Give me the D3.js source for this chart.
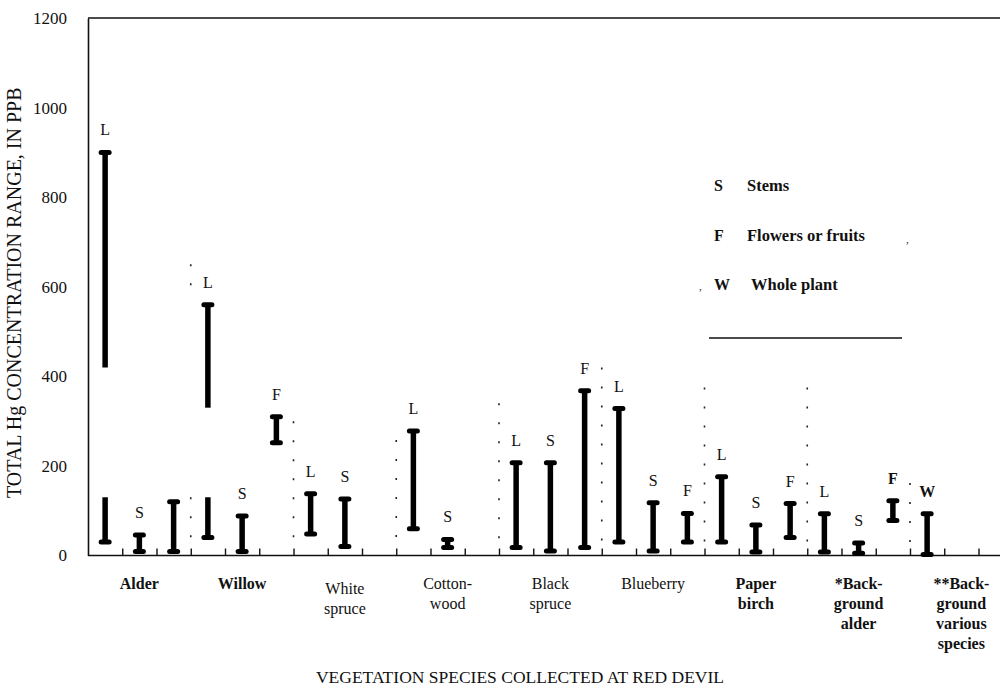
<!DOCTYPE html>
<html>
<head>
<meta charset="utf-8">
<script src="https://cdn.jsdelivr.net/npm/d3@7"></script>
<style>
  body { margin: 0; background: #fff; }
  text { font-family: "Liberation Serif", "Times New Roman", serif; fill: #111; }
</style>
</head>
<body>
<svg id="chart" width="1004" height="688"></svg>
<script>
// Species groups along the x axis (three sample slots per species)
const speciesLines = [
  ["Alder"], ["Willow"], ["White", "spruce"], ["Cotton-", "wood"],
  ["Black", "spruce"], ["Blueberry"], ["Paper", "birch"],
  ["*Back-", "ground", "alder"], ["**Back-", "ground", "various", "species"]
];
const speciesLight = ["White", "Cotton-", "Black", "Blueberry"];

// Concentration ranges (ppb): slot index, low, high, which ends carry a cap
const rangeSlot = [0, 0, 1, 2, 3, 3, 4, 5, 6, 7, 9, 10, 12, 13, 14, 15, 16, 17, 18, 19, 20, 21, 22, 23, 24];
const rangeLow  = [420, 30, 9, 9, 330, 40, 9, 252, 48, 20, 60, 18, 18, 10, 18, 30, 10, 30, 30, 8, 40, 8, 5, 78, 2];
const rangeHigh = [900, 130, 46, 120, 560, 130, 88, 310, 138, 126, 278, 36, 207, 207, 368, 328, 118, 94, 176, 68, 116, 93, 28, 122, 93];
const rangeCaps = ["t", "b", "tb", "tb", "t", "b", "tb", "tb", "tb", "tb", "tb", "tb", "tb", "tb", "tb", "tb", "tb", "tb", "tb", "tb", "tb", "tb", "tb", "tb", "tb"];

// Plant-part letters drawn above the ranges
const labelSlot = [0, 1, 3, 4, 5, 6, 7, 9, 10, 12, 13, 14, 15, 16, 17, 18, 19, 20, 21, 22, 23, 24];
const labelText = ["L", "S", "L", "S", "F", "L", "S", "L", "S", "L", "S", "F", "L", "S", "F", "L", "S", "F", "L", "S", "F", "W"];
const labelBold = [23, 24];

// Dotted dividers between species groups: [upper, lower] extents in ppb
const dividerAfter = [0, 1, 2, 3, 4, 5, 6, 7];
const dividerParts = [
  [[650, 590], [130, 25]],
  [[300, 30]],
  [[258, 30]],
  [[340, 30]],
  [[420, 30]],
  [[375, 30]],
  [[375, 30]],
  [[162, 30]]
];

// Legend
const legendKey = ["S", "F", "W"];
const legendText = ["Stems", "Flowers or fruits", "Whole plant"];

const yTicks = [0, 200, 400, 600, 800, 1000, 1200];

const svg = d3.select("#chart");
const plotLeft = 88, plotRight = 1000, plotTop = 18, plotBottom = 555.5;
const slotWidth = 34.25;
const nSlots = speciesLines.length * 3;

const x = d3.scaleBand().domain(d3.range(nSlots)).range([plotLeft, plotLeft + slotWidth * nSlots]).padding(0);
const cx = i => x(i) + x.bandwidth() / 2;
const edge = d3.scaleLinear().domain([0, nSlots]).range([plotLeft, plotLeft + slotWidth * nSlots]);
const y = d3.scaleLinear().domain([0, 1200]).range([plotBottom, plotTop]);

// Frame: top rule and baseline
svg.append("line").attr("x1", plotLeft).attr("x2", plotRight).attr("y1", plotTop).attr("y2", plotTop)
  .attr("stroke", "#111").attr("stroke-width", 1.6);
svg.append("line").attr("x1", plotLeft).attr("x2", plotRight).attr("y1", plotBottom).attr("y2", plotBottom)
  .attr("stroke", "#111").attr("stroke-width", 1.6);

// Y axis
const yAxis = svg.append("g").attr("transform", `translate(${plotLeft},0)`)
  .call(d3.axisLeft(y).tickValues(yTicks).tickSize(0).tickPadding(21).tickFormat(d3.format("d")));
yAxis.select(".domain").attr("stroke", "#111").attr("stroke-width", 1.6);
yAxis.selectAll("text").style("font-family", "Liberation Serif").style("font-size", "17px").attr("fill", "#111");

// Bottom ticks at every slot boundary
const xAxis = svg.append("g").attr("transform", `translate(0,${plotBottom})`)
  .call(d3.axisBottom(edge).tickValues(d3.range(1, nSlots).filter(k => edge(k) < plotRight))
    .tickSizeInner(-7).tickSizeOuter(0).tickFormat(""));
xAxis.select(".domain").remove();
xAxis.selectAll(".tick line").attr("stroke", "#111").attr("stroke-width", 1.4);

// Species names below the axis
const names = svg.append("g");
speciesLines.forEach((lines, s) => {
  const t = names.append("text")
    .attr("x", cx(s * 3 + 1))
    .attr("y", 589 + (s === 2 ? 5 : 0))
    .attr("text-anchor", "middle")
    .style("font-size", "16px")
    .style("font-weight", speciesLight.includes(lines[0]) ? "normal" : "bold");
  lines.forEach((ln, k) => {
    t.append("tspan").attr("x", cx(s * 3 + 1)).attr("dy", k === 0 ? 0 : 20).text(ln);
  });
});

// Dotted dividers
dividerAfter.forEach((s, k) => {
  const xx = edge((s + 1) * 3);
  dividerParts[k].forEach(([hi, lo]) => {
    svg.append("line").attr("x1", xx).attr("x2", xx).attr("y1", y(hi)).attr("y2", y(lo))
      .attr("stroke", "#222").attr("stroke-width", 1.6).attr("stroke-dasharray", "2,17");
  });
});

// Range bars
const bars = svg.append("g");
rangeSlot.forEach((slot, i) => {
  const xx = cx(slot);
  bars.append("line").attr("x1", xx).attr("x2", xx)
    .attr("y1", y(rangeHigh[i])).attr("y2", y(rangeLow[i]))
    .attr("stroke", "#000").attr("stroke-width", 5.5);
  const caps = [];
  if (rangeCaps[i].includes("t")) caps.push(rangeHigh[i]);
  if (rangeCaps[i].includes("b")) caps.push(rangeLow[i]);
  caps.forEach(v => {
    bars.append("rect").attr("x", xx - 6.5).attr("y", y(v) - 2.5)
      .attr("width", 13).attr("height", 5).attr("rx", 2.5).attr("fill", "#000");
  });
});

// Part letters above each range
labelSlot.forEach((slot, i) => {
  const hi = d3.max(rangeSlot.map((s, j) => s === slot ? rangeHigh[j] : -Infinity));
  svg.append("text").attr("x", cx(slot)).attr("y", y(hi) - 17)
    .attr("text-anchor", "middle")
    .style("font-size", "16px")
    .style("font-weight", labelBold.includes(slot) ? "bold" : "normal")
    .text(labelText[i]);
});

// Legend
const legend = svg.append("g");
legendKey.forEach((k, i) => {
  const yy = 191 + i * 49.5;
  legend.append("text").attr("x", 714).attr("y", yy)
    .style("font-size", "16px").style("font-weight", "bold").text(k);
  legend.append("text").attr("x", 747 + (i === 2 ? 4 : 0)).attr("y", yy)
    .style("font-size", "16.5px").style("font-weight", "bold").text(legendText[i]);
});
legend.append("line").attr("x1", 709).attr("x2", 902).attr("y1", 338).attr("y2", 338)
  .attr("stroke", "#111").attr("stroke-width", 1.6);
legend.append("text").attr("x", 906).attr("y", 243).style("font-size", "11px").text(",");
legend.append("text").attr("x", 699).attr("y", 290).style("font-size", "11px").text(",");

// Axis titles
svg.append("text")
  .attr("transform", `translate(21,${(plotTop + plotBottom) / 2 + 6}) rotate(-90)`)
  .attr("text-anchor", "middle")
  .style("font-size", "20px")
  .text("TOTAL Hg CONCENTRATION RANGE, IN PPB");
svg.append("text")
  .attr("x", 520).attr("y", 683)
  .attr("text-anchor", "middle")
  .style("font-size", "17.5px")
  .text("VEGETATION SPECIES COLLECTED AT RED DEVIL");
</script>
</body>
</html>
